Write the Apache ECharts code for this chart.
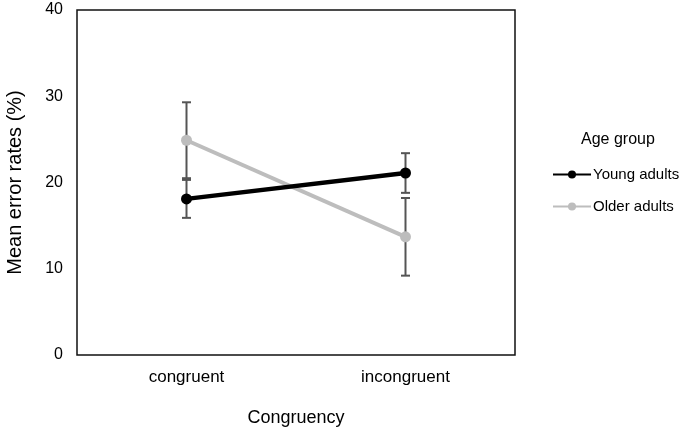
<!DOCTYPE html>
<html>
<head>
<meta charset="utf-8">
<script src="https://cdn.jsdelivr.net/npm/echarts@6/dist/echarts.min.js"></script>
<style>
  html, body { margin: 0; padding: 0; background: #fff; }
  #chart { width: 685px; height: 432px; }
</style>
</head>
<body>
<div id="chart"></div>
<script>
  // data
  var categories = ['congruent', 'incongruent'];
  var youngMeans = [18.1, 21.1];
  var youngErr = [2.2, 2.3];
  var olderMeans = [24.9, 13.7];
  var olderErr = [4.4, 4.5];
  var yTicks = [0, 10, 20, 30, 40];

  function errData(means, errs) {
    return means.map(function (m, i) { return [i, m - errs[i], m + errs[i]]; });
  }

  function renderErr(params, api) {
    var lo = api.coord([api.value(0), api.value(1)]);
    var hi = api.coord([api.value(0), api.value(2)]);
    var cap = 4.5;
    var style = { stroke: '#555', lineWidth: 2 };
    return {
      type: 'group',
      children: [
        { type: 'line', shape: { x1: lo[0], y1: lo[1], x2: hi[0], y2: hi[1] }, style: style },
        { type: 'line', shape: { x1: lo[0] - cap, y1: lo[1], x2: lo[0] + cap, y2: lo[1] }, style: style },
        { type: 'line', shape: { x1: hi[0] - cap, y1: hi[1], x2: hi[0] + cap, y2: hi[1] }, style: style }
      ]
    };
  }

  var font = 'Liberation Sans, Arial, sans-serif';
  var myChart = echarts.init(document.getElementById('chart'));
  myChart.setOption({
    animation: false,
    textStyle: { fontFamily: font },
    title: {
      text: 'Age group',
      left: 576, top: 127,
      textStyle: { fontSize: 16, fontWeight: 'normal', color: '#000', fontFamily: font }
    },
    legend: {
      orient: 'vertical',
      left: 547, top: 162,
      itemWidth: 38, itemHeight: 10,
      itemGap: 17,
      textStyle: { fontSize: 15, color: '#000', padding: [0, 0, 0, -3] },
      data: ['Young adults', 'Older adults']
    },
    grid: {
      left: 77, right: 170, top: 10, bottom: 77,
      outerBoundsMode: 'none',
      show: true, borderColor: '#111', borderWidth: 1.5, backgroundColor: 'transparent'
    },
    xAxis: {
      type: 'category',
      data: categories,
      boundaryGap: true,
      name: 'Congruency',
      nameLocation: 'middle',
      nameGap: 54,
      nameTextStyle: { fontSize: 18, color: '#000' },
      axisLine: { show: false },
      axisTick: { show: false },
      axisLabel: { fontSize: 17, color: '#000', margin: 14 }
    },
    yAxis: {
      type: 'value',
      min: yTicks[0], max: yTicks[yTicks.length - 1], interval: 10,
      name: 'Mean error rates (%)',
      nameLocation: 'middle',
      nameGap: 52,
      nameTextStyle: { fontSize: 20, color: '#000' },
      axisLine: { show: false },
      axisTick: { show: false },
      splitLine: { show: false },
      axisLabel: { fontSize: 16, color: '#000', margin: 14 }
    },
    series: [
      {
        type: 'custom',
        name: 'errYoung',
        renderItem: renderErr,
        data: errData(youngMeans, youngErr),
        z: 1,
        encode: { x: 0, y: [1, 2] }
      },
      {
        type: 'custom',
        name: 'errOlder',
        renderItem: renderErr,
        data: errData(olderMeans, olderErr),
        z: 1,
        encode: { x: 0, y: [1, 2] }
      },
      {
        name: 'Young adults',
        type: 'line',
        data: youngMeans,
        symbol: 'circle',
        symbolSize: 11,
        lineStyle: { color: '#000', width: 4.5 },
        itemStyle: { color: '#000' },
        z: 3
      },
      {
        name: 'Older adults',
        type: 'line',
        data: olderMeans,
        symbol: 'circle',
        symbolSize: 11,
        lineStyle: { color: '#bdbdbd', width: 4 },
        itemStyle: { color: '#bdbdbd' },
        z: 2
      }
    ]
  });
</script>
</body>
</html>
